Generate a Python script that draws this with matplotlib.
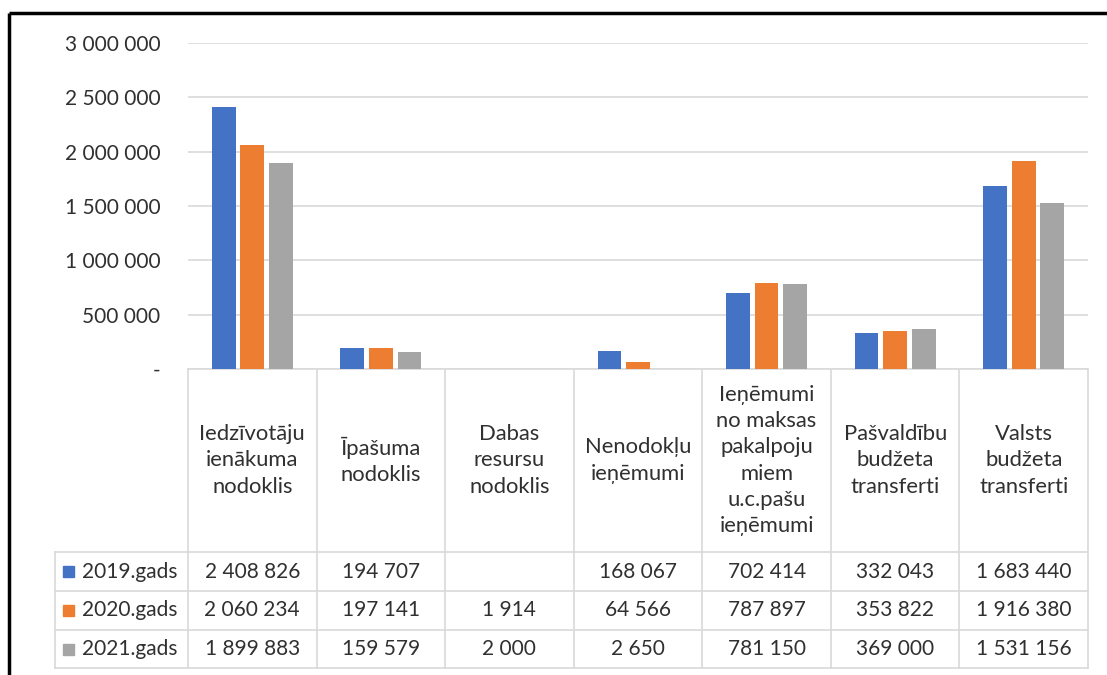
import matplotlib.pyplot as plt
import numpy as np
from matplotlib.patches import Rectangle

plt.rcParams["font.family"] = ["Lato", "DejaVu Sans"]

categories = [
    "Iedzīvotāju\nienākuma\nnodoklis",
    "Īpašuma\nnodoklis",
    "Dabas\nresursu\nnodoklis",
    "Nenodokļu\nieņēmumi",
    "Ieņēmumi\nno maksas\npakalpoju\nmiem\nu.c.pašu\nieņēmumi",
    "Pašvaldību\nbudžeta\ntransferti",
    "Valsts\nbudžeta\ntransferti",
]
series_names = ["2019.gads", "2020.gads", "2021.gads"]
values_2019 = [2408826, 194707, np.nan, 168067, 702414, 332043, 1683440]
values_2020 = [2060234, 197141, 1914, 64566, 787897, 353822, 1916380]
values_2021 = [1899883, 159579, 2000, 2650, 781150, 369000, 1531156]
colors = ["#4472C4", "#ED7D31", "#A5A5A5"]
y_ticks = np.arange(0, 3_000_001, 500_000)

TEXT = "#303030"
GRID = "#D9D9D9"
FS = 15


def fmt(v):
    if np.isnan(v):
        return ""
    return f"{v:,.0f}".replace(",", " ")


W, H = 1107, 675
fig = plt.figure(figsize=(W / 100, H / 100), dpi=100)

# pixel layout
plot_left, plot_right = 188, 1088
plot_top, plot_bottom = 43, 369
header_bottom = 552
row_edges = [552, 591, 630, 668]
legend_left = 55

ax = fig.add_axes([plot_left / W, 1 - plot_bottom / H,
                   (plot_right - plot_left) / W, (plot_bottom - plot_top) / H])
n = len(categories)
x = np.arange(n) + 0.5
series = [values_2019, values_2020, values_2021]
offset = 0.222
for i, (vals, col) in enumerate(zip(series, colors)):
    ax.bar(x + (i - 1) * offset, np.nan_to_num(vals), width=0.185,
           color=col, linewidth=0, zorder=3)

ax.set_xlim(0, n)
ax.set_ylim(0, 3_000_000)
ax.set_yticks(y_ticks)
ax.set_yticklabels(["-" if t == 0 else fmt(t) for t in y_ticks])
ax.tick_params(axis="y", length=0, pad=20, labelsize=FS, labelcolor=TEXT)
ax.set_xticks([])
ax.yaxis.grid(True, color=GRID, linewidth=1.2, zorder=0)
for s in ["top", "right", "left"]:
    ax.spines[s].set_visible(False)
ax.spines["bottom"].set_color(GRID)
ax.spines["bottom"].set_linewidth(1.2)

# data table drawn in figure pixel coordinates
tab = fig.add_axes([0, 0, 1, 1], zorder=-1)
tab.set_xlim(0, W)
tab.set_ylim(H, 0)
tab.axis("off")

col_w = (plot_right - plot_left) / n
col_edges = [plot_left + k * col_w for k in range(n + 1)]
for xe in col_edges:
    tab.plot([xe, xe], [plot_bottom, row_edges[-1]], color=GRID, lw=1.2)
for ye in row_edges:
    tab.plot([legend_left, plot_right], [ye, ye], color=GRID, lw=1.2)
tab.plot([legend_left, legend_left], [row_edges[0], row_edges[-1]], color=GRID, lw=1.2)

for k, cat in enumerate(categories):
    cx = plot_left + (k + 0.5) * col_w
    tab.text(cx, (plot_bottom + header_bottom) / 2, cat, ha="center", va="center",
             fontsize=FS + 0.8, color=TEXT, linespacing=1.38)

for r, (name, vals, col) in enumerate(zip(series_names, series, colors)):
    cy = (row_edges[r] + row_edges[r + 1]) / 2
    tab.add_patch(Rectangle((63, cy - 5.5), 11, 11, color=col))
    tab.text(82, cy, name, ha="left", va="center", fontsize=FS, color=TEXT)
    for k, v in enumerate(vals):
        cx = plot_left + (k + 0.5) * col_w
        tab.text(cx, cy, fmt(v), ha="center", va="center", fontsize=FS, color=TEXT)

# outer black frame (top and left visible)
tab.plot([9, 9], [13, H], color="black", lw=2.5, solid_capstyle="butt")
tab.plot([9, W], [13, 13], color="black", lw=2.5, solid_capstyle="butt")

fig.savefig("out.png", dpi=100, facecolor="white")
